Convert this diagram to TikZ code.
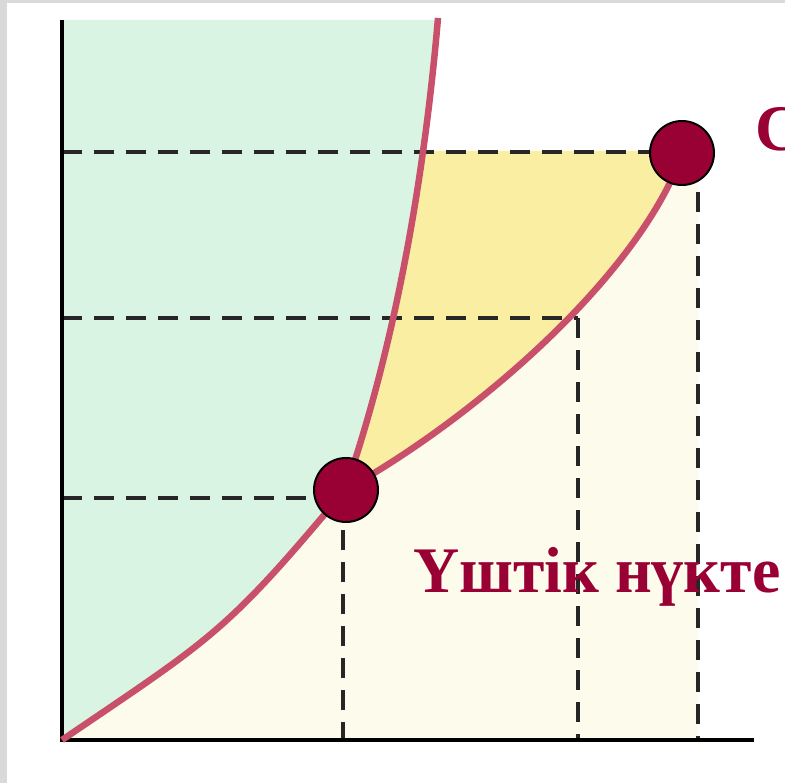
\documentclass[tikz,border=0pt]{standalone}
\usepackage{fontspec}
\setmainfont{Liberation Serif}
\newfontfamily\labfont[FakeStretch=0.983]{Liberation Serif}
\begin{document}
\begin{tikzpicture}[x=1pt,y=-1pt,
  curve/.style={draw=curvered,line width=6.5pt,line join=round},
  dashline/.style={draw=dashgray,line width=3.6pt,dash pattern=on 20pt off 12pt},
  axis/.style={draw=black,line width=3.6pt},
  point/.style={circle,fill=pointred,draw=black,line width=2pt,minimum size=64pt,inner sep=0pt},
  label/.style={text=pointred,font=\labfont\bfseries\fontsize{65}{69}\selectfont,inner sep=0pt}]
\definecolor{curvered}{HTML}{C9506A}
\definecolor{dashgray}{HTML}{262626}
\definecolor{pointred}{HTML}{990033}
\definecolor{greenfill}{HTML}{D9F4E3}
\definecolor{yellowfill}{HTML}{FAEEA3}
\definecolor{creamfill}{HTML}{FDFBEC}
\definecolor{framegray}{HTML}{D9D9D9}
\useasboundingbox (0,0) rectangle (785,783);
\fill[white] (0,0) rectangle (785,783);
\fill[framegray] (0,0) rectangle (7,783);
\fill[framegray] (0,0) rectangle (785,3);
% regions
\fill[greenfill] (62,20) -- (438,20)
  .. controls (425,170) and (397,340) .. (345,490)
  .. controls (225,634) and (212,638) .. (62,740)
  -- cycle;
\begin{scope}
\clip (0,152) rectangle (785,783);
\fill[yellowfill] (345,490) .. controls (397,340) and (425,170) .. (438,20)
  -- (683,152) .. controls (640,275) and (475,418) .. (345,490) -- cycle;
\fill[creamfill] (62,740) .. controls (212,638) and (225,634) .. (345,490)
  .. controls (475,418) and (640,275) .. (683,152)
  -- (698,152) -- (698,740) -- cycle;
\end{scope}
% named points
\coordinate (o) at (62,740);
\coordinate (ytop) at (62,20);
\coordinate (xend) at (754,740);
\coordinate (h1) at (62,152);
\coordinate (h1e) at (683,152);
\coordinate (h2) at (62,318);
\coordinate (h2e) at (578,318);
\coordinate (h3) at (62,498);
\coordinate (t3) at (343,498);
\coordinate (v1) at (343,740);
\coordinate (v2) at (578,740);
\coordinate (v3t) at (698,160);
\coordinate (v3) at (698,740);
% dashed guides
\draw[dashline] (h1) -- (h1e);
\draw[dashline] (h2) -- (h2e);
\draw[dashline] (h3) -- (t3);
\draw[dashline] (t3) -- (v1);
\draw[dashline] (h2e) -- (v2);
\draw[dashline] (v3t) -- (v3);
% axes
\draw[axis] (ytop) -- (o) -- (xend);
% curves
\draw[curve] (438,18) .. controls (425,170) and (397,340) .. (345,490);
\draw[curve] (62,740) .. controls (212,638) and (225,634) .. (345,490);
\draw[curve] (345,490) .. controls (475,418) and (640,275) .. (683,152);
% points
\node[point] (triple) at (346,490) {};
\node[point] (crit) at (682,153) {};
% labels
\node[label,anchor=base west] (tlabel) at (413,592) {Үштік нүкте};
\node[label,anchor=base west] (clabel) at (755,151) {С};
\end{tikzpicture}
\end{document}
